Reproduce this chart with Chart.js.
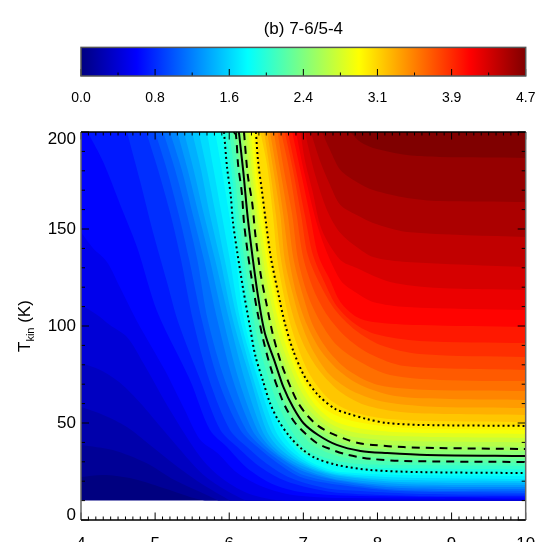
<!DOCTYPE html>
<html lang="en">
<head>
  <meta charset="UTF-8" />
  <title>(b) 7-6/5-4</title>
  <script src="https://cdn.jsdelivr.net/npm/chart.js"></script>
  <style>
    html, body { margin: 0; padding: 0; background: #fff; overflow: hidden; width: 541px; height: 542px; }
    #wrap { position: relative; width: 541px; height: 542px; overflow: hidden; }
    #cbar { position: absolute; left: 0; top: 0; }
    #main { position: absolute; left: 0; top: 120px; }
  </style>
</head>
<body>
  <div id="wrap">
    <canvas id="cbar" width="541" height="120"></canvas>
    <canvas id="main" width="541" height="500"></canvas>
  </div>

  <script>
    const titleText = '(b) 7-6/5-4';
    const cbarMax = 4.7;
    const cbarTicks = [0, 0.783, 1.567, 2.35, 3.133, 3.917, 4.7];
    const cbarLabels = ['0.0', '0.8', '1.6', '2.4', '3.1', '3.9', '4.7'];
    const jetStops = [[0, 0, 0, 128], [0.125, 0, 0, 255], [0.375, 0, 255, 255], [0.625, 255, 255, 0], [0.875, 255, 0, 0], [1, 128, 0, 0]];

    const xMajorTicks = [4, 5, 6, 7, 8, 9, 10];
    const yMajorTicks = [0, 50, 100, 150, 200];
    const xMin = 4, xMax = 10, tLow = 10, tHigh = 200;

    // filled contours, lowest level first: log density and T of each boundary
    const contourX = [
      [4, 4.3, 4.66, 5.11, 5.47, 5.67],
      [4, 4.43, 4.88, 5.26, 5.61, 5.78, 5.85],
      [4, 4.3, 4.62, 4.93, 5.27, 5.61, 5.88, 6.01],
      [4, 4.26, 4.53, 4.8, 5.11, 5.61, 5.88, 6.15, 6.22],
      [4, 4.22, 4.39, 4.62, 4.84, 5.2, 5.61, 5.88, 6.24, 6.62, 6.96],
      [4, 4.16, 4.35, 4.53, 4.76, 5.13, 5.4, 5.61, 5.84, 6.11, 6.46, 6.86, 7.5, 10],
      [4.09, 4.3, 4.53, 4.76, 5.03, 5.47, 5.74, 5.97, 6.24, 6.58, 6.96, 7.5, 8.57, 10],
      [4.62, 4.8, 4.97, 5.16, 5.31, 5.61, 5.88, 6.11, 6.38, 6.73, 7.09, 7.5, 8.57, 10],
      [4.88, 5.04, 5.21, 5.35, 5.51, 5.73, 6.01, 6.24, 6.51, 6.83, 7.29, 7.77, 8.57, 10],
      [5, 5.16, 5.32, 5.46, 5.63, 5.85, 6.15, 6.38, 6.65, 6.96, 7.5, 8.31, 10],
      [5.11, 5.27, 5.43, 5.57, 5.71, 5.94, 6.23, 6.44, 6.7, 7, 7.5, 8.31, 10],
      [5.2, 5.36, 5.51, 5.66, 5.84, 6.05, 6.31, 6.5, 6.75, 7.02, 7.5, 8.31, 10],
      [5.3, 5.44, 5.59, 5.74, 5.92, 6.13, 6.38, 6.55, 6.79, 7.06, 7.5, 8.31, 10],
      [5.39, 5.52, 5.66, 5.81, 6.0, 6.21, 6.44, 6.6, 6.85, 7.12, 7.5, 8.31, 10],
      [5.5, 5.62, 5.74, 5.88, 6.05, 6.29, 6.5, 6.66, 6.89, 7.17, 7.5, 8.31, 10],
      [5.59, 5.7, 5.82, 5.94, 6.11, 6.33, 6.56, 6.73, 6.94, 7.23, 7.5, 8.31, 10],
      [5.7, 5.79, 5.9, 6.01, 6.15, 6.39, 6.62, 6.78, 7, 7.25, 7.5, 8.31, 10],
      [5.81, 5.9, 6.0, 6.09, 6.2, 6.42, 6.69, 6.85, 7.05, 7.29, 7.5, 8.31, 10],
      [5.9, 5.97, 6.02, 6.05, 6.11, 6.19, 6.28, 6.35, 6.46, 6.55, 6.66, 6.82, 7.0, 7.16, 7.45, 7.9, 8.57, 10],
      [5.96, 6.03, 6.1, 6.18, 6.26, 6.34, 6.43, 6.55, 6.7, 6.86, 7.02, 7.33, 7.7, 8.4, 10],
      [6.0, 6.07, 6.14, 6.22, 6.3, 6.39, 6.49, 6.61, 6.75, 6.91, 7.06, 7.35, 7.72, 8.4, 10],
      [6.04, 6.11, 6.18, 6.24, 6.3, 6.37, 6.45, 6.55, 6.69, 6.87, 7.08, 7.38, 7.74, 8.4, 10],
      [6.08, 6.15, 6.22, 6.28, 6.35, 6.44, 6.56, 6.67, 6.79, 6.95, 7.13, 7.4, 7.75, 8.5, 10],
      [6.12, 6.19, 6.25, 6.32, 6.39, 6.48, 6.62, 6.73, 6.86, 7.0, 7.2, 7.45, 7.77, 8.13, 8.67, 10],
      [6.16, 6.22, 6.28, 6.35, 6.43, 6.52, 6.66, 6.78, 6.92, 7.18, 7.5, 7.95, 8.7, 10],
      [6.19, 6.25, 6.31, 6.39, 6.47, 6.57, 6.71, 6.83, 6.98, 7.24, 7.55, 8.0, 8.7, 10],
      [6.23, 6.28, 6.35, 6.43, 6.51, 6.61, 6.75, 6.88, 7.05, 7.3, 7.6, 8.05, 8.7, 10],
      [6.26, 6.31, 6.38, 6.46, 6.55, 6.66, 6.8, 6.94, 7.12, 7.35, 7.65, 8.1, 8.7, 10],
      [6.29, 6.34, 6.41, 6.5, 6.59, 6.71, 6.85, 7.0, 7.19, 7.42, 7.72, 8.15, 8.75, 10],
      [6.33, 6.37, 6.45, 6.53, 6.63, 6.75, 6.89, 7.05, 7.27, 7.5, 7.8, 8.2, 8.8, 10],
      [6.37, 6.39, 6.44, 6.5, 6.56, 6.66, 6.75, 6.86, 7.02, 7.2, 7.43, 7.59, 7.86, 8.13, 8.57, 10],
      [6.42, 6.51, 6.59, 6.65, 6.73, 6.82, 6.94, 7.09, 7.33, 7.63, 8.04, 8.71, 10],
      [6.47, 6.55, 6.63, 6.7, 6.79, 6.9, 7.04, 7.23, 7.5, 7.83, 8.31, 8.98, 10],
      [6.51, 6.6, 6.69, 6.75, 6.86, 6.98, 7.14, 7.36, 7.66, 8.1, 8.84, 10],
      [6.55, 6.65, 6.73, 6.81, 6.91, 7.05, 7.23, 7.47, 7.77, 8.24, 8.98, 10],
      [6.6, 6.7, 6.79, 6.87, 7.0, 7.14, 7.35, 7.62, 8.01, 8.71, 10],
      [6.65, 6.75, 6.85, 6.93, 7.06, 7.23, 7.45, 7.77, 8.17, 8.84, 10],
      [6.7, 6.81, 6.91, 7.0, 7.14, 7.33, 7.59, 7.9, 8.37, 10],
      [6.75, 6.86, 6.97, 7.06, 7.23, 7.43, 7.7, 8.04, 8.57, 10],
      [6.79, 6.9, 7.02, 7.13, 7.29, 7.45, 7.7, 7.97, 8.57, 10],
      [6.85, 6.96, 7.09, 7.2, 7.36, 7.5, 7.72, 7.94, 8.57, 10],
      [6.9, 7.02, 7.23, 7.5, 7.72, 7.94, 8.4, 10],
      [6.96, 7.02, 7.12, 7.25, 7.5, 7.72, 8.17, 8.84, 10],
      [7.02, 7.16, 7.33, 7.5, 7.72, 7.94, 8.4, 10],
      [7.1, 7.22, 7.36, 7.5, 7.72, 7.94, 8.4, 10],
      [7.25, 7.36, 7.5, 7.72, 7.94, 8.4, 8.84, 10],
      [7.63, 7.77, 7.94, 8.4, 8.84, 10]
    ];
    const contourT = [
      [22.2, 23.2, 21.6, 16.5, 11.9, 10],
      [38.7, 36.1, 29.4, 20.6, 14.4, 11.3, 10],
      [58.2, 54.1, 47.9, 38.7, 28.4, 19.1, 12.9, 10],
      [80.9, 77.3, 70.6, 60.3, 46.4, 24.7, 17, 11.3, 10],
      [110.8, 105.7, 100.5, 94.3, 80.9, 56.7, 32.5, 22.2, 13.9, 10.3, 10],
      [148.5, 140.2, 133, 119.6, 102.1, 77.3, 56.7, 41.2, 34.5, 24.2, 17, 12.9, 11.3, 10.8],
      [200, 184.5, 162.4, 140.2, 107.2, 72.2, 46.4, 37.6, 26.8, 18.6, 14.4, 12.6, 11.9, 11.6],
      [200, 174.2, 148.5, 122.7, 102.1, 72.2, 46.4, 37.6, 28.4, 20.6, 16.5, 13.9, 12.4, 12.4],
      [200, 180.4, 157.2, 134, 103.1, 72.2, 46.4, 37.6, 28.9, 21.6, 16.5, 14.9, 13.4, 13.1],
      [200, 180.4, 157.2, 134, 103.1, 72.2, 46.4, 37.6, 29.4, 22.2, 18, 14.9, 13.9],
      [200, 180.4, 157.2, 134, 103.1, 72.2, 46.4, 37.6, 29.9, 23.2, 19.1, 15.5, 15],
      [200, 180.4, 157.2, 134, 103.1, 72.2, 46.4, 37.6, 30.4, 24.7, 20.1, 16.5, 16],
      [200, 180.4, 157.2, 134, 103.1, 72.2, 46.4, 37.6, 30.4, 25.3, 20.6, 17.5, 17],
      [200, 180.4, 157.2, 134, 103.1, 72.2, 46.4, 37.6, 30.4, 25.8, 21.6, 18.6, 18],
      [200, 180.4, 157.2, 134, 103.1, 72.2, 46.4, 37.6, 30.9, 25.8, 22.7, 19.6, 19.1],
      [200, 180.4, 157.2, 134, 103.1, 72.2, 46.4, 37.6, 30.9, 25.8, 23.2, 20.6, 20.1],
      [200, 180.4, 157.2, 134, 103.1, 72.2, 46.4, 37.6, 30.9, 26.3, 24, 21.9, 21.1],
      [200, 180.4, 157.2, 134, 103.1, 72.2, 46.4, 37.6, 30.9, 26.8, 24.7, 23.2, 22.7],
      [200, 182, 167.5, 153.6, 137.6, 118.6, 99.5, 85, 71.1, 60.3, 51.5, 42.8, 36, 32, 28.4, 25.8, 24.7, 24.2],
      [200, 180, 153, 130, 110, 92, 76, 62, 50, 40, 34, 29.5, 27.3, 26.5, 26],
      [200, 180, 153, 130, 110, 92, 78, 64, 52, 42, 36, 31.5, 29, 28.3, 27.8],
      [200, 183, 153, 137.6, 122.7, 107, 92.8, 78.4, 63.4, 50, 40, 34, 31, 30.2, 29.6],
      [200, 179, 156, 134, 115, 96.4, 81, 68.6, 58, 48, 41, 36, 33, 32, 31.5],
      [200, 179, 156, 134, 115, 96.4, 81, 68.6, 58, 50, 43.8, 38.7, 35.6, 34.5, 33.5, 33],
      [200, 179, 156, 134, 115, 96.4, 81, 68.6, 58, 47, 40, 36.8, 36, 35.6],
      [200, 179, 156, 134, 115, 96.4, 81, 68.6, 58, 48, 41.5, 39, 38.1, 37.6],
      [200, 179, 156, 134, 115, 96.4, 81, 68.6, 58, 49, 43.5, 41.3, 40.5, 40],
      [200, 179, 156, 134, 115, 96.4, 81, 68.6, 58, 50, 45.5, 43.5, 42.8, 42.3],
      [200, 179, 156, 134, 115, 96.4, 81, 68.6, 58, 51, 47.5, 45.5, 44.8, 44.3],
      [200, 179, 156, 134, 115, 96.4, 81, 68.6, 58, 53, 50, 48, 47, 46.4],
      [200, 184.5, 170, 152, 135.6, 117, 101.5, 87.6, 73.7, 64.4, 57.2, 55, 52, 50, 49, 48.5],
      [200, 183, 157.2, 134, 117, 101.5, 87.6, 74.7, 62.9, 56.2, 52.6, 51, 50.5],
      [200, 180.4, 157.2, 134, 116, 100.5, 87.6, 76.3, 66, 59.3, 55.7, 54.6, 54.1],
      [200, 179.4, 157.2, 134, 116, 100.5, 86.6, 74.7, 66.5, 60.8, 58.2, 57.7],
      [200, 177.8, 157.2, 134, 116, 100.5, 87.6, 77.3, 69.6, 63.9, 62.4, 61.9],
      [200, 177.8, 157.2, 134, 115, 99.5, 86.6, 76.8, 69.6, 67, 66.5],
      [200, 177.8, 157.2, 134, 116, 102.1, 90.2, 81.4, 74.7, 72.2, 71.6],
      [200, 180.4, 157.2, 135, 118.6, 105.2, 93.8, 85.6, 79.4, 77.3],
      [200, 180.4, 157.2, 136.6, 121.1, 108.2, 97.9, 90.2, 85.6, 84],
      [200, 180.4, 157.2, 136.6, 122.2, 110.3, 101, 95.9, 92.3, 91.2],
      [200, 180.4, 157.2, 136.6, 123.7, 112.4, 104.6, 102.1, 100.5, 99.5],
      [200, 177.8, 146.9, 123.7, 117, 112.4, 109.8, 108.2],
      [200, 185.6, 170.1, 149.5, 134, 129.9, 122.7, 119.6, 118.6],
      [200, 177.8, 158.8, 147.9, 140.7, 135.6, 133, 130.4],
      [200, 185.6, 172.7, 162.4, 157.2, 153.1, 148.5, 145.9],
      [200, 190.7, 180.4, 174.2, 170.1, 166, 164.4, 163.9],
      [200, 194.8, 191.8, 188.1, 187.1, 186.6]
    ];

    // overlaid contour lines
    const solidX = [6.13, 6.19, 6.25, 6.32, 6.39, 6.48, 6.62, 6.73, 6.86, 7.0, 7.2, 7.45, 7.77, 8.13, 8.67, 10];
    const solidT = [200, 179.4, 155.7, 134, 115, 96.4, 80.9, 68.6, 58.2, 50, 43.8, 38.7, 35.6, 34.5, 33.5, 33];
    const dashHiX = [6.2, 6.21, 6.25, 6.31, 6.35, 6.4, 6.43, 6.5, 6.59, 6.7, 6.85, 6.93, 7.06, 7.2, 7.37, 7.56, 7.74, 7.94, 8.35, 8.8, 10];
    const dashHiT = [200, 194.8, 177.8, 163.4, 147.9, 133, 125.3, 111.9, 95.4, 80.9, 66.5, 60.3, 53.6, 48.5, 44.8, 41.8, 39.7, 38.7, 37.6, 37.1, 36.6];
    const dashLoX = [6.06, 6.09, 6.12, 6.17, 6.2, 6.25, 6.31, 6.38, 6.46, 6.56, 6.7, 6.78, 6.89, 7.02, 7.18, 7.36, 7.56, 7.74, 7.94, 8.35, 10];
    const dashLoT = [200, 198.5, 183, 168.6, 153, 137.6, 122.7, 107.2, 92.8, 78.4, 63.4, 56.7, 50, 44.8, 39.7, 36.6, 34, 32.5, 31.4, 30.4, 29.9];
    const dotHiX = [6.36, 6.39, 6.44, 6.5, 6.56, 6.66, 6.75, 6.86, 7.02, 7.2, 7.43, 7.59, 7.86, 8.13, 8.57, 10];
    const dotHiT = [200, 184.5, 170, 152, 135.6, 117, 101.5, 87.6, 73.7, 64.4, 57.2, 55, 52, 50, 49, 48.5];
    const dotLoX = [5.93, 5.97, 6.02, 6.05, 6.11, 6.19, 6.28, 6.35, 6.46, 6.55, 6.66, 6.82, 7.0, 7.16, 7.45, 7.9, 8.57, 10];
    const dotLoT = [200, 182, 167.5, 153.6, 137.6, 118.6, 99.5, 85, 71.1, 60.3, 51.5, 42.8, 36, 32, 28.4, 25.8, 24.7, 24.2];

    Chart.defaults.font.family = "'Liberation Sans', Arial, sans-serif";
    Chart.defaults.color = '#000';
    Chart.defaults.animation = false;

    function jetColor(f) {
      for (let i = 1; i < jetStops.length; i++) {
        if (f <= jetStops[i][0]) {
          const a = jetStops[i - 1], b = jetStops[i];
          const t = (f - a[0]) / (b[0] - a[0]);
          const c = [1, 2, 3].map(k => Math.round(a[k] + (b[k] - a[k]) * t));
          return `rgb(${c[0]},${c[1]},${c[2]})`;
        }
      }
      return 'rgb(128,0,0)';
    }

    // closes a contour along the plot edge so the area above it can be filled
    // the end of the contour and the corners go in twice so the curve tension leaves them sharp
    function levelPolygon(xs, ts) {
      const pts = xs.map((x, i) => ({ x: x, y: ts[i] }));
      const last = pts[pts.length - 1];
      pts.push({ x: last.x, y: last.y });
      if (last.y <= tLow && last.x < xMax) pts.push({ x: xMax, y: tLow }, { x: xMax, y: tLow });
      pts.push({ x: xMax, y: tHigh }, { x: xMax, y: tHigh });
      if (pts[0].x === xMin) pts.push({ x: xMin, y: tHigh }, { x: xMin, y: tHigh });
      return pts;
    }

    function lineSet(xs, ts, dash, width) {
      return {
        data: xs.map((x, i) => ({ x: x, y: ts[i] })),
        showLine: true,
        fill: false,
        borderColor: '#000',
        borderWidth: width,
        borderDash: dash,
        pointRadius: 0,
        tension: 0.3
      };
    }

    const datasets = [
      lineSet(solidX, solidT, [], 2),
      lineSet(dashHiX, dashHiT, [8, 6], 2),
      lineSet(dashLoX, dashLoT, [8, 6], 2),
      lineSet(dotHiX, dotHiT, [2, 3], 2),
      lineSet(dotLoX, dotLoT, [2, 3], 2)
    ];
    // the filler paints the last dataset first, so the highest level goes first here
    for (let i = contourX.length - 1; i >= -1; i--) {
      const pts = i < 0
        ? [{ x: xMin, y: tLow }, { x: xMax, y: tLow }, { x: xMax, y: tHigh }, { x: xMin, y: tHigh }]
        : levelPolygon(contourX[i], contourT[i]);
      const color = jetColor((i + 1) / contourX.length);
      datasets.push({
        data: pts,
        showLine: true,
        fill: 'shape',
        backgroundColor: color,
        borderColor: color,
        borderWidth: 0,
        pointRadius: 0,
        tension: i < 0 ? 0 : 0.3
      });
    }

    const inwardTicks = {
      id: 'inwardTicks',
      afterDatasetsDraw(chart) {
        const { ctx, chartArea: a, scales: { x, y } } = chart;
        ctx.save();
        ctx.strokeStyle = '#000';
        ctx.lineWidth = 1;
        ctx.beginPath();
        for (let k = 0; k <= 60; k++) {
          const px = x.getPixelForValue(xMin + k * 0.1);
          const len = k % 10 === 0 ? 7.5 : 3.5;
          ctx.moveTo(px, a.bottom); ctx.lineTo(px, a.bottom - len);
          ctx.moveTo(px, a.top); ctx.lineTo(px, a.top + len);
        }
        for (let k = 0; k <= 20; k++) {
          const py = y.getPixelForValue(k * 10);
          const len = k % 5 === 0 ? 8 : 4;
          ctx.moveTo(a.left, py); ctx.lineTo(a.left + len, py);
          ctx.moveTo(a.right, py); ctx.lineTo(a.right - len, py);
        }
        ctx.stroke();
        ctx.lineWidth = 1.5;
        ctx.strokeStyle = '#666';
        ctx.beginPath();
        ctx.moveTo(a.left, a.top); ctx.lineTo(a.left, a.bottom);
        ctx.moveTo(a.right, a.top); ctx.lineTo(a.right, a.bottom);
        ctx.stroke();
        ctx.strokeStyle = '#000';
        ctx.beginPath();
        ctx.moveTo(a.left, a.top); ctx.lineTo(a.right, a.top);
        ctx.moveTo(a.left, a.bottom); ctx.lineTo(a.right, a.bottom);
        ctx.stroke();

        // y title with its subscript
        ctx.translate(30, (a.top + a.bottom) / 2 + 26);
        ctx.rotate(-Math.PI / 2);
        ctx.fillStyle = '#000';
        ctx.textBaseline = 'alphabetic';
        ctx.font = "17px 'Liberation Sans'";
        ctx.fillText('T', 0, 0);
        let w = ctx.measureText('T').width;
        ctx.font = "11px 'Liberation Sans'";
        ctx.fillText('kin', w, 4);
        w += ctx.measureText('kin').width;
        ctx.font = "17px 'Liberation Sans'";
        ctx.fillText(' (K)', w, 0);
        ctx.restore();
      }
    };

    new Chart(document.getElementById('main'), {
      type: 'scatter',
      data: { datasets: datasets },
      plugins: [inwardTicks],
      options: {
        responsive: false,
        layout: { padding: { top: 12, right: 15.3, left: 0, bottom: 0 } },
        plugins: { legend: { display: false }, tooltip: { enabled: false } },
        scales: {
          x: {
            type: 'linear',
            min: xMin,
            max: xMax,
            afterFit(scale) { scale.height = 100; scale.paddingLeft = 0; scale.paddingRight = 0; },
            afterBuildTicks(scale) { scale.ticks = xMajorTicks.map(v => ({ value: v })); },
            grid: { display: false, drawTicks: false },
            border: { display: false },
            ticks: { font: { size: 17 }, padding: 14, maxRotation: 0, autoSkip: false, callback: v => String(v) }
          },
          y: {
            type: 'linear',
            min: 0,
            max: tHigh,
            afterFit(scale) { scale.width = 81; scale.paddingTop = 0; scale.paddingBottom = 0; },
            afterBuildTicks(scale) { scale.ticks = yMajorTicks.map(v => ({ value: v })); },
            grid: { display: false, drawTicks: false },
            border: { display: false },
            ticks: {
              padding: 5,
              autoSkip: false,
              // the end labels sit inside the axis range in the original
              font: ctx => ({ size: 17, lineHeight: ctx.tick && ctx.tick.value === 0 ? 0.6 : ctx.tick && ctx.tick.value === 200 ? 0.82 : 1.2 }),
              callback: v => v === 0 ? ['0', ''] : v === 200 ? ['', '200'] : String(v)
            }
          }
        }
      }
    });

    const cbarTickMarks = {
      id: 'cbarTickMarks',
      afterDatasetsDraw(chart) {
        const { ctx, chartArea: a, scales: { x } } = chart;
        ctx.save();
        ctx.strokeStyle = '#000';
        ctx.lineWidth = 1;
        ctx.beginPath();
        cbarTicks.forEach((v, i) => {
          const px = x.getPixelForValue(v);
          ctx.moveTo(px, a.bottom); ctx.lineTo(px, a.bottom - 7);
          if (i < cbarTicks.length - 1) {
            const mid = (px + x.getPixelForValue(cbarTicks[i + 1])) / 2;
            ctx.moveTo(mid, a.bottom); ctx.lineTo(mid, a.bottom - 3.5);
          }
        });
        ctx.stroke();
        ctx.strokeStyle = '#555';
        ctx.lineWidth = 1.5;
        ctx.strokeRect(a.left, a.top, a.right - a.left, a.bottom - a.top);
        ctx.restore();
      }
    };

    new Chart(document.getElementById('cbar'), {
      type: 'bar',
      data: {
        labels: [titleText],
        datasets: [{
          data: [[0, cbarMax]],
          barPercentage: 1,
          categoryPercentage: 1,
          backgroundColor(ctx) {
            const a = ctx.chart.chartArea;
            if (!a) return '#000';
            const g = ctx.chart.ctx.createLinearGradient(a.left, 0, a.right, 0);
            jetStops.forEach(s => g.addColorStop(s[0], `rgb(${s[1]},${s[2]},${s[3]})`));
            return g;
          }
        }]
      },
      plugins: [cbarTickMarks],
      options: {
        indexAxis: 'y',
        responsive: false,
        layout: { padding: { left: 81, right: 15.3, top: 0, bottom: 0 } },
        plugins: {
          legend: { display: false },
          tooltip: { enabled: false },
          title: {
            display: true,
            text: titleText,
            fullSize: false,
            font: { size: 17, weight: 'normal' },
            padding: { top: 19, bottom: 8 }
          }
        },
        scales: {
          y: { display: false },
          x: {
            type: 'linear',
            min: 0,
            max: cbarMax,
            afterFit(scale) { scale.height = 44; scale.paddingLeft = 0; scale.paddingRight = 0; },
            afterBuildTicks(scale) { scale.ticks = cbarTicks.map(v => ({ value: v })); },
            grid: { display: false, drawTicks: false },
            border: { display: false },
            ticks: {
              font: { size: 14 },
              padding: 14,
              maxRotation: 0,
              autoSkip: false,
              callback: (v, i) => cbarLabels[i]
            }
          }
        }
      }
    });
  </script>
</body>
</html>
